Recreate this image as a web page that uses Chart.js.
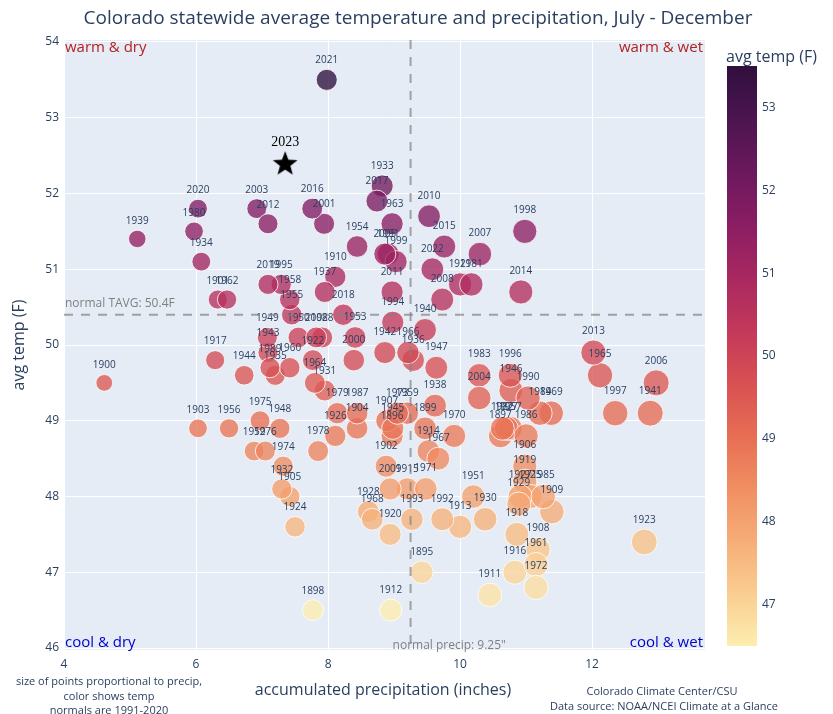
<!DOCTYPE html>
<html><head><meta charset="utf-8">
<script src="https://cdn.jsdelivr.net/npm/chart.js@4.4.0/dist/chart.umd.min.js"></script>
<style>html,body{margin:0;padding:0;background:#fff}canvas{display:block}</style>
</head><body>
<canvas id="c" width="833" height="714"></canvas>
<script>
// ---------- data ----------
const years = [1895,1896,1897,1898,1899,1900,1901,1902,1903,1904,1905,1906,1907,1908,1909,1910,1911,1912,1913,1914,1915,1916,1917,1918,1919,1920,1921,1922,1923,1924,1925,1926,1927,1928,1929,1930,1931,1932,1933,1934,1935,1936,1937,1938,1939,1940,1941,1942,1943,1944,1945,1946,1947,1948,1949,1950,1951,1952,1953,1954,1955,1956,1957,1958,1959,1960,1961,1962,1963,1964,1965,1966,1967,1968,1969,1970,1971,1972,1973,1974,1975,1976,1977,1978,1979,1980,1981,1982,1983,1984,1985,1986,1987,1988,1989,1990,1991,1992,1993,1994,1995,1996,1997,1998,1999,2000,2001,2002,2003,2004,2005,2006,2007,2008,2009,2010,2011,2012,2013,2014,2015,2016,2017,2018,2019,2020,2021,2022];
const precip = [9.42,8.97,10.61,7.77,9.47,4.61,6.33,8.88,6.03,8.44,7.42,10.98,8.89,11.18,11.39,8.11,10.45,8.95,10.00,9.52,9.20,10.83,6.29,10.86,10.98,8.94,10.00,7.77,12.79,7.50,11.06,8.11,10.91,8.61,10.89,10.38,7.95,7.30,8.82,6.08,7.20,9.29,7.95,9.62,5.11,9.47,12.88,8.86,7.09,6.73,8.98,10.77,9.64,7.27,7.08,7.55,10.20,6.88,8.41,8.44,7.45,6.50,10.76,7.42,9.20,7.42,11.15,6.47,8.97,7.80,12.12,9.21,9.67,8.67,11.38,9.91,9.48,11.15,9.05,7.32,6.97,7.05,10.70,7.85,8.14,5.97,10.17,10.64,10.29,11.21,11.26,11.00,8.44,7.91,7.12,11.03,8.91,9.73,9.27,8.98,7.29,10.76,12.35,10.98,9.03,8.39,7.94,7.82,6.92,10.29,8.86,12.97,10.30,9.73,8.94,9.53,8.97,7.09,12.02,10.92,9.76,7.76,8.74,8.23,7.09,6.03,7.98,9.58];
const temps = [47.0,48.8,48.8,46.5,48.9,49.5,50.6,48.4,48.9,48.9,48.0,48.4,49.0,47.3,47.8,50.9,46.7,46.5,47.6,48.6,48.1,47.0,49.8,47.5,48.2,47.5,50.8,49.8,47.4,47.6,48.0,48.8,48.0,47.8,47.9,47.7,49.4,48.1,52.1,51.1,49.6,49.8,50.7,49.2,51.4,50.2,49.1,49.9,49.9,49.6,48.9,49.4,49.7,48.9,50.1,50.1,48.0,48.6,50.1,51.3,50.4,48.9,48.9,50.6,49.1,49.7,47.1,50.6,51.6,49.5,49.6,49.9,48.5,47.7,49.1,48.8,48.1,46.8,49.1,48.4,49.0,48.6,48.9,48.6,49.1,51.5,50.8,48.9,49.6,49.1,48.0,48.8,49.1,50.1,49.7,49.3,51.2,47.7,47.7,50.3,50.8,49.6,49.1,51.5,51.1,49.8,51.6,50.1,51.8,49.3,51.2,49.5,51.2,50.6,48.1,51.7,50.7,51.6,49.9,50.7,51.3,51.8,51.9,50.4,50.8,51.8,53.5,51.0];
const year2023 = ["2023"];
const precip2023 = [7.35];
const temp2023 = [52.4];
const xTicks = [4,6,8,10,12];
const yTicks = [46,47,48,49,50,51,52,53,54];
const cbarTicks = [47,48,49,50,51,52,53];
const normalPrecip = 9.25;
const normalTemp = 50.4;
const cMin = 46.5, cMax = 53.5;

// ---------- styling helpers ----------
const FONT = "'Open Sans', 'DejaVu Sans', sans-serif";
const INK = '#2a3f5f';
const matter = [[253,237,176],[250,205,145],[246,173,119],[240,142,98],[231,109,84],[216,80,83],[195,56,90],[168,40,96],[138,29,99],[107,24,93],[76,21,80],[47,15,61]];
function colorFor(v, a){
  let f = (v - cMin)/(cMax - cMin); f = Math.max(0, Math.min(1, f));
  const pos = f*(matter.length-1); const i = Math.min(Math.floor(pos), matter.length-2); const t = pos - i;
  const c = matter[i].map((x,k)=>Math.round(x + (matter[i+1][k]-x)*t));
  return `rgba(${c[0]},${c[1]},${c[2]},${a})`;
}
function radiusFor(p){ return 3.2*Math.sqrt(p) + 1.5; }

function makeStar(size){
  const c = document.createElement('canvas'); c.width = c.height = size;
  const g = c.getContext('2d'); const cx = size/2, cy = size/2 + 1, R = size/2, r = R*0.42;
  g.beginPath();
  for (let i=0;i<10;i++){ const a = -Math.PI/2 + i*Math.PI/5; const rr = i%2 ? r : R; g.lineTo(cx + rr*Math.cos(a), cy + rr*Math.sin(a)); }
  g.closePath(); g.fillStyle = '#000'; g.fill();
  return c;
}

const bubbleData = years.map((y,i)=>({x: precip[i], y: temps[i], r: radiusFor(precip[i])}));
const starData = precip2023.map((p,i)=>({x: p, y: temp2023[i]}));

// ---------- plugin: background, labels, lines, annotations, colorbar ----------
const decor = {
  id: 'decor',
  beforeDraw(chart){
    const {ctx, chartArea:a} = chart;
    ctx.save(); ctx.fillStyle = '#E5ECF6'; ctx.fillRect(a.left, a.top, a.right-a.left, a.bottom-a.top); ctx.restore();
  },
  afterDatasetsDraw(chart){
    const {ctx, chartArea:a, scales:{x, y}} = chart;
    ctx.save();
    // year labels
    ctx.font = `10px ${FONT}`; ctx.fillStyle = INK; ctx.textAlign = 'center'; ctx.textBaseline = 'middle';
    const meta = chart.getDatasetMeta(0);
    meta.data.forEach((el,i)=>{ ctx.fillText(String(years[i]), el.x, el.y - radiusFor(precip[i]) - 9); });
    // 2023 label
    const m1 = chart.getDatasetMeta(1);
    ctx.font = `14px 'Liberation Serif', 'DejaVu Serif', serif`; ctx.fillStyle = '#000';
    m1.data.forEach((el,i)=>{ ctx.fillText(year2023[i], el.x, el.y - 21); });
    // normal lines
    ctx.strokeStyle = 'rgba(128,128,128,0.7)'; ctx.lineWidth = 2; ctx.setLineDash([9,8]);
    const px = x.getPixelForValue(normalPrecip), py = y.getPixelForValue(normalTemp);
    ctx.beginPath(); ctx.moveTo(px, a.top); ctx.lineTo(px, a.bottom); ctx.stroke();
    ctx.beginPath(); ctx.moveTo(a.left, py); ctx.lineTo(a.right, py); ctx.stroke();
    ctx.setLineDash([]);
    // line annotations
    ctx.fillStyle = '#808080'; ctx.font = `12px ${FONT}`; ctx.textAlign = 'left';
    ctx.fillText('normal TAVG: 50.4F', a.left + 1, py - 11);
    ctx.fillText('normal precip: 9.25"', px - 18, a.bottom - 4);
    // quadrant annotations
    ctx.font = `15px ${FONT}`;
    ctx.fillStyle = '#b22222';
    ctx.textAlign = 'left'; ctx.fillText('warm & dry', a.left + 1, a.top + 8);
    ctx.textAlign = 'right'; ctx.fillText('warm & wet', a.right - 2, a.top + 8);
    ctx.fillStyle = '#0000cd';
    ctx.textAlign = 'left'; ctx.fillText('cool & dry', a.left + 1, a.bottom - 7);
    ctx.textAlign = 'right'; ctx.fillText('cool & wet', a.right - 2, a.bottom - 7);
    ctx.restore();
  },
  afterDraw(chart){
    const {ctx, chartArea:a} = chart;
    ctx.save();
    ctx.fillStyle = INK; ctx.textBaseline = 'middle'; ctx.textAlign = 'center';
    // title
    ctx.font = `19px ${FONT}`;
    ctx.fillText('Colorado statewide average temperature and precipitation, July - December', 418, 19);
    // axis titles
    ctx.font = `16px ${FONT}`;
    ctx.fillText('accumulated precipitation (inches)', 383, 690);
    ctx.save(); ctx.translate(19, (a.top + a.bottom)/2); ctx.rotate(-Math.PI/2); ctx.fillText('avg temp (F)', 0, 0); ctx.restore();
    // notes
    ctx.font = `11px ${FONT}`;
    ctx.fillText('size of points proportional to precip,', 109, 682);
    ctx.fillText('color shows temp', 109, 697);
    ctx.fillText('normals are 1991-2020', 109, 711);
    ctx.fillText('Colorado Climate Center/CSU', 662, 692);
    ctx.fillText('Data source: NOAA/NCEI Climate at a Glance', 664, 707);
    // colorbar
    const cbL = 727, cbR = 757, cbT = 66, cbB = 646;
    const grad = ctx.createLinearGradient(0, cbB, 0, cbT);
    matter.forEach((c,i)=>grad.addColorStop(i/(matter.length-1), `rgb(${c[0]},${c[1]},${c[2]})`));
    ctx.fillStyle = grad; ctx.fillRect(cbL, cbT, cbR-cbL, cbB-cbT);
    ctx.fillStyle = INK; ctx.font = `16px ${FONT}`; ctx.textAlign = 'left';
    ctx.fillText('avg temp (F)', 726, 57);
    ctx.font = `12px ${FONT}`;
    cbarTicks.forEach(v=>{ const yy = cbB - (v - cMin)/(cMax - cMin)*(cbB - cbT); ctx.fillText(String(v), cbR + 5, yy); });
    ctx.restore();
  }
};

new Chart(document.getElementById('c'), {
  type: 'bubble',
  data: { datasets: [
    { data: bubbleData, backgroundColor: temps.map(t=>colorFor(t, 0.78)), borderColor: 'rgba(255,255,255,0.8)', borderWidth: 1, hoverRadius: 0 },
    { type: 'scatter', data: starData, pointStyle: makeStar(26), pointRadius: 13, backgroundColor: '#000', borderWidth: 0 }
  ]},
  options: {
    responsive: false, animation: false, events: [],
    layout: { padding: { top: 40, right: 128, left: 0, bottom: 0 } },
    plugins: { legend: { display: false }, tooltip: { enabled: false }, title: { display: false } },
    scales: {
      x: { type: 'linear', min: 4, max: 13.71,
        afterBuildTicks: s => { s.ticks = xTicks.map(v=>({value:v})); },
        afterFit: s => { s.height = 64; },
        grid: { color: '#ffffff', lineWidth: 1, drawTicks: false }, border: { display: false },
        ticks: { color: INK, font: { family: FONT, size: 12 }, padding: 7 } },
      y: { type: 'linear', min: 45.974, max: 54.026,
        afterBuildTicks: s => { s.ticks = yTicks.map(v=>({value:v})); },
        afterFit: s => { s.width = 64; },
        grid: { color: '#ffffff', lineWidth: 1, drawTicks: false }, border: { display: false },
        ticks: { color: INK, font: { family: FONT, size: 12 }, padding: 5 } }
    }
  },
  plugins: [decor]
});
</script>
</body></html>
